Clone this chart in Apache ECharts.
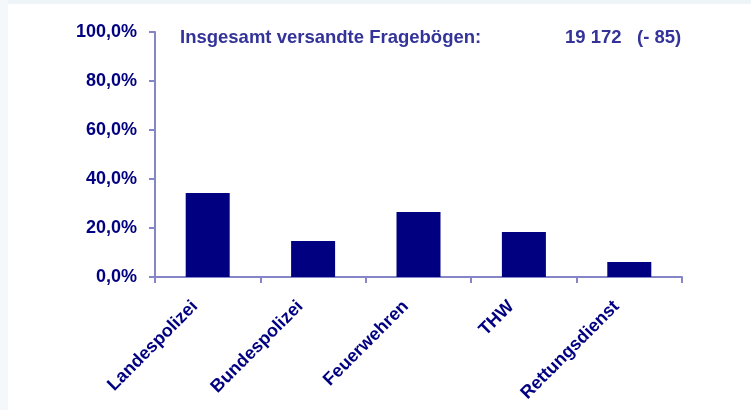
<!DOCTYPE html>
<html>
<head>
<meta charset="utf-8">
<script src="https://cdn.jsdelivr.net/npm/echarts@6/dist/echarts.min.js"></script>
<style>
html,body{margin:0;padding:0;background:#fff;}
#c{width:751px;height:410px;}
</style>
</head>
<body>
<div id="c"></div>
<script>
const categories = ['Landespolizei', 'Bundespolizei', 'Feuerwehren', 'THW', 'Rettungsdienst'];
const values = [34.3, 14.7, 26.5, 18.4, 6.1];
const yTicks = [0, 20, 40, 60, 80, 100];
const titleLeft = 'Insgesamt versandte Fragebögen:';
const titleRight = '19 172   (- 85)';

const chart = echarts.init(document.getElementById('c'), null, {renderer: 'canvas'});
const font = '"Liberation Sans", Arial, sans-serif';
chart.setOption({
  backgroundColor: '#ffffff',
  animation: false,
  graphic: [
    {type: 'rect', left: 0, top: 0, shape: {width: 751, height: 4}, style: {fill: '#eef5f8'}, silent: true},
    {type: 'rect', left: 0, top: 0, shape: {width: 8, height: 410}, style: {fill: '#f4f8fa'}, silent: true},
    {type: 'text', left: 180, top: 28, style: {text: titleLeft, fill: '#333399', font: 'bold 18.5px ' + font}},
    {type: 'text', left: 565, top: 28, style: {text: titleRight, fill: '#333399', font: 'bold 18.5px ' + font}}
  ],
  grid: {left: 155, right: 69, top: 32, bottom: 133, containLabel: false},
  xAxis: {
    type: 'category',
    data: categories,
    axisLine: {lineStyle: {color: '#8585c8', width: 2}},
    axisTick: {show: true, alignWithLabel: false, length: 6, lineStyle: {color: '#8585c8', width: 2}},
    axisLabel: {
      rotate: 45, margin: 14, interval: 0, padding: [0, 18, 0, 0],
      color: '#000080', fontWeight: 'bold', fontSize: 18, fontFamily: font
    }
  },
  yAxis: {
    type: 'value', min: 0, max: 100, interval: 20,
    splitLine: {show: false},
    axisLine: {show: true, lineStyle: {color: '#8585c8', width: 2}},
    axisTick: {show: true, length: 6, lineStyle: {color: '#8585c8', width: 2}},
    axisLabel: {
      margin: 18,
      color: '#000080', fontWeight: 'bold', fontSize: 18, fontFamily: font,
      formatter: v => yTicks.includes(v) ? v.toFixed(1).replace('.', ',') + '%' : ''
    }
  },
  series: [{
    type: 'bar',
    data: values,
    barWidth: 44,
    itemStyle: {color: '#000080'}
  }]
});
</script>
</body>
</html>
